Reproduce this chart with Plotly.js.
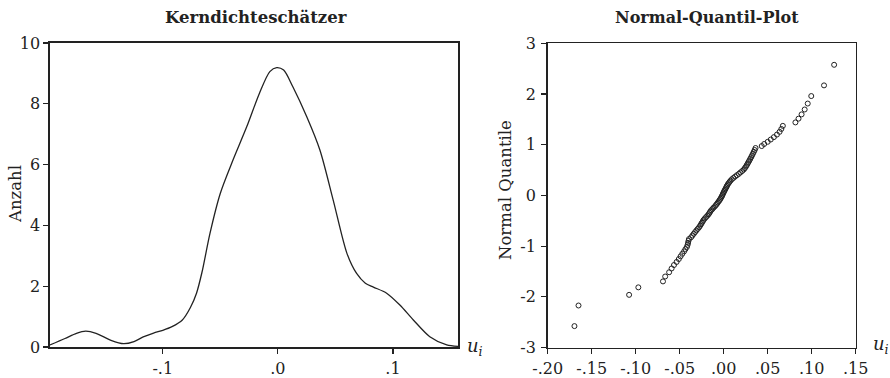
<!DOCTYPE html>
<html>
<head>
<meta charset="utf-8">
<script src="https://cdn.plot.ly/plotly-3.0.1.min.js"></script>
<style>html,body{margin:0;padding:0;background:#fff;}#chart{width:890px;height:378px;}</style>
</head>
<body>
<div id="chart"></div>
<script>
// Kernel density estimate (left panel)
var kdeX = [-0.198, -0.185, -0.175, -0.167, -0.158, -0.145, -0.134, -0.125, -0.117, -0.108, -0.100, -0.092, -0.083, -0.076, -0.0707, -0.066, -0.059, -0.050, -0.039, -0.027, -0.016, -0.007, -0.001, 0.005, 0.013, 0.025, 0.0365, 0.048, 0.060, 0.0684, 0.076, 0.083, 0.0945, 0.106, 0.1177, 0.132, 0.1467, 0.1565];
var kdeY = [0.07, 0.28, 0.45, 0.52, 0.45, 0.22, 0.11, 0.18, 0.33, 0.46, 0.55, 0.67, 0.89, 1.30, 1.77, 2.45, 3.74, 5.06, 6.15, 7.25, 8.35, 9.06, 9.19, 9.11, 8.56, 7.58, 6.48, 4.84, 3.08, 2.42, 2.10, 1.97, 1.77, 1.38, 0.89, 0.34, 0.07, 0.02];

// Normal quantile plot (right panel): sorted residuals u_i and normal quantiles
var qqU = [-0.1696, -0.1650, -0.1075, -0.0970, -0.0690, -0.0665, -0.0620, -0.0592, -0.0565, -0.0535,
  -0.0510, -0.0490, -0.0470, -0.0450, -0.0435, -0.0418, -0.0410, -0.0405, -0.0400, -0.0395,
  -0.0370, -0.0355, -0.0340, -0.0325, -0.0310, -0.0295, -0.0280, -0.0268, -0.0258, -0.0248,
  -0.0238, -0.0228, -0.0215, -0.0200, -0.0185, -0.0172, -0.0162, -0.0153, -0.0142, -0.0128,
  -0.0115, -0.0100, -0.0088, -0.0076, -0.0066, -0.0055, -0.0045, -0.0036, -0.0028, -0.0020,
  -0.0013, -0.0007, 0.0000, 0.0007, 0.0015, 0.0022, 0.0030, 0.0037, 0.0045, 0.0055,
  0.0066, 0.0078, 0.0092, 0.0110, 0.0130, 0.0150, 0.0172, 0.0190, 0.0210, 0.0228,
  0.0240, 0.0252, 0.0262, 0.0272, 0.0282, 0.0292, 0.0302, 0.0312, 0.0322, 0.0332,
  0.0342, 0.0352, 0.0362, 0.0432, 0.0460, 0.0500, 0.0535, 0.0570, 0.0605, 0.0635,
  0.0655, 0.0672, 0.0815, 0.0850, 0.0885, 0.0920, 0.0955, 0.0995, 0.1140, 0.1255];
var qqZ = [-2.576, -2.170, -1.960, -1.812, -1.695, -1.598, -1.514, -1.440, -1.372, -1.311,
  -1.254, -1.200, -1.150, -1.103, -1.058, -1.015, -0.974, -0.935, -0.896, -0.860,
  -0.824, -0.789, -0.755, -0.722, -0.690, -0.659, -0.628, -0.598, -0.568, -0.539,
  -0.510, -0.482, -0.454, -0.426, -0.399, -0.372, -0.345, -0.319, -0.292, -0.266,
  -0.240, -0.215, -0.189, -0.164, -0.138, -0.113, -0.088, -0.063, -0.038, -0.0125,
  0.0125, 0.038, 0.063, 0.088, 0.113, 0.138, 0.164, 0.189, 0.215, 0.240,
  0.266, 0.292, 0.319, 0.345, 0.372, 0.399, 0.426, 0.454, 0.482, 0.510,
  0.539, 0.568, 0.598, 0.628, 0.659, 0.690, 0.722, 0.755, 0.789, 0.824,
  0.860, 0.896, 0.935, 0.974, 1.015, 1.058, 1.103, 1.150, 1.200, 1.254,
  1.311, 1.372, 1.440, 1.514, 1.598, 1.695, 1.812, 1.960, 2.170, 2.576];

// Tick labels
var leftXTickVals = [-0.1, 0, 0.1];
var leftXTickText = ['-.1', '.0', '.1'];
var leftYTickVals = [0, 2, 4, 6, 8, 10];
var leftYTickText = ['0', '2', '4', '6', '8', '10'];
var rightXTickVals = [-0.20, -0.15, -0.10, -0.05, 0, 0.05, 0.10, 0.15];
var rightXTickText = ['-.20', '-.15', '-.10', '-.05', '.00', '.05', '.10', '.15'];
var rightYTickVals = [-3, -2, -1, 0, 1, 2, 3];
var rightYTickText = ['-3', '-2', '-1', '0', '1', '2', '3'];

var serif = 'DejaVu Serif, serif';
var ink = '#222';

var traces = [
  {x: kdeX, y: kdeY, type: 'scatter', mode: 'lines', xaxis: 'x', yaxis: 'y',
   line: {color: ink, width: 1.3, shape: 'spline', smoothing: 0.8}, hoverinfo: 'none'},
  {x: qqU, y: qqZ, type: 'scatter', mode: 'markers', xaxis: 'x2', yaxis: 'y2',
   marker: {symbol: 'circle-open', size: 5, color: ink, line: {width: 1, color: ink}}, hoverinfo: 'none'}
];

var axisBase = {
  showline: true, mirror: true, linecolor: ink, linewidth: 1.6,
  ticks: 'outside', ticklen: 5, tickwidth: 1.2, tickcolor: ink,
  showgrid: false, zeroline: false, tickmode: 'array',
  tickfont: {family: serif, size: 16, color: ink}, fixedrange: true
};
function ax(extra) { return Object.assign({}, axisBase, extra); }

var layout = {
  width: 890, height: 378,
  margin: {l: 0, r: 0, t: 0, b: 0},
  paper_bgcolor: '#fff', plot_bgcolor: '#fff',
  showlegend: false,
  xaxis: ax({domain: [50/890, 458/890], range: [-0.198, 0.1565], tickvals: leftXTickVals, ticktext: leftXTickText, anchor: 'y', ticklabelstandoff: 1}),
  yaxis: ax({domain: [1 - 347/378, 1 - 43/378], range: [0, 10], tickvals: leftYTickVals, ticktext: leftYTickText, anchor: 'x', ticklabelstandoff: 0}),
  xaxis2: ax({domain: [547.7/890, 855.7/890], range: [-0.2, 0.15], tickvals: rightXTickVals, ticktext: rightXTickText, anchor: 'y2', ticklabelstandoff: 1}),
  yaxis2: ax({domain: [1 - 347.6/378, 1 - 43.3/378], range: [-3, 3], tickvals: rightYTickVals, ticktext: rightYTickText, anchor: 'x2', ticklabelstandoff: 2}),
  annotations: [
    {text: '<b>Kerndichteschätzer</b>', xref: 'paper', yref: 'paper', x: 256/890, y: 1 - 17/378, xanchor: 'center', yanchor: 'middle', showarrow: false, font: {family: serif, size: 16.5, color: ink}},
    {text: '<b>Normal-Quantil-Plot</b>', xref: 'paper', yref: 'paper', x: 707/890, y: 1 - 17/378, xanchor: 'center', yanchor: 'middle', showarrow: false, font: {family: serif, size: 16, color: ink}},
    {text: 'Anzahl', xref: 'paper', yref: 'paper', x: 15/890, y: 1 - 194/378, xanchor: 'center', yanchor: 'middle', textangle: -90, showarrow: false, font: {family: serif, size: 16.5, color: ink}},
    {text: 'Normal Quantile', xref: 'paper', yref: 'paper', x: 505/890, y: 1 - 190/378, xanchor: 'center', yanchor: 'middle', textangle: -90, showarrow: false, font: {family: serif, size: 16.5, color: ink}},
    {text: '<i>u<sub>i</sub></i>', xref: 'paper', yref: 'paper', x: 475/890, y: 1 - 347/378, xanchor: 'center', yanchor: 'middle', showarrow: false, font: {family: serif, size: 18, color: ink}},
    {text: '<i>u<sub>i</sub></i>', xref: 'paper', yref: 'paper', x: 881/890, y: 1 - 345/378, xanchor: 'center', yanchor: 'middle', showarrow: false, font: {family: serif, size: 18, color: ink}}
  ]
};

Plotly.newPlot('chart', traces, layout, {staticPlot: true, displayModeBar: false});
</script>
</body>
</html>
